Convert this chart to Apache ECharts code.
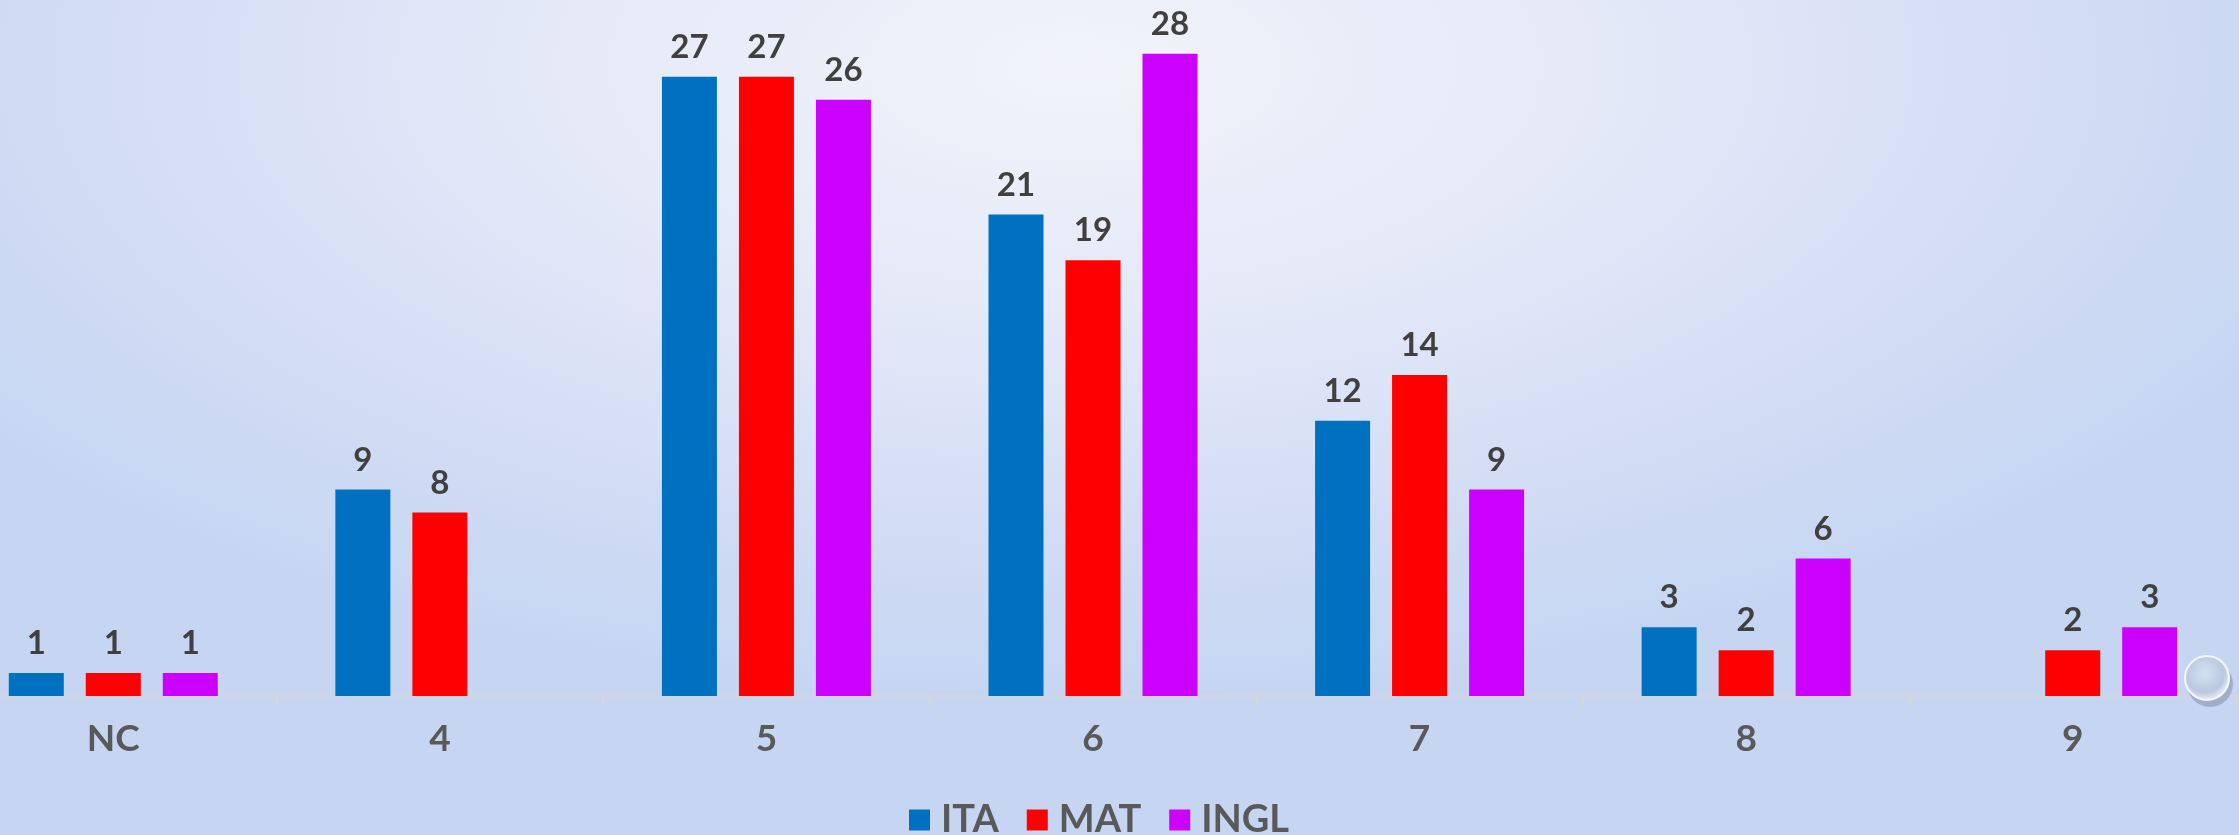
<!DOCTYPE html>
<html>
<head>
<meta charset="utf-8">
<style>
  html, body { margin: 0; padding: 0; }
  body {
    width: 2239px; height: 835px; overflow: hidden; position: relative;
    background: radial-gradient(ellipse 60% 75% at 48% 8%, #f2f3fa 0%, #e4e9f8 40%, #d2dcf4 75%, #c6d6f2 100%);
  }
  #chart { position: absolute; left: -50px; top: 0; width: 2289px; height: 835px; }
</style>
<script src="https://cdn.jsdelivr.net/npm/echarts@6/dist/echarts.min.js"></script>
</head>
<body>
<div id="chart"></div>
<script>
const categories = ['NC', '4', '5', '6', '7', '8', '9'];
const ita  = [1, 9, 27, 21, 12, 3, null];
const mat  = [1, 8, 27, 19, 14, 2, 2];
const ingl = [1, null, 26, 28, 9, 6, 3];
const seriesNames = ['ITA', 'MAT', 'INGL'];
const seriesColors = ['#0070c0', '#ff0000', '#cc00ff'];

const chart = echarts.init(document.getElementById('chart'), null, { renderer: 'canvas' });
const font = 'Lato, "Open Sans", sans-serif';

function mk(name, data, color) {
  return {
    name: name,
    type: 'bar',
    data: data,
    barWidth: 55,
    barGap: '40%',
    itemStyle: { color: color },
    label: {
      show: true,
      position: 'top',
      distance: 13,
      fontFamily: font,
      fontWeight: 'bold',
      fontSize: 33,
      color: '#404040'
    }
  };
}

chart.setOption({
  backgroundColor: 'transparent',
  animation: false,
  grid: { left: 0, right: 3, top: 8, bottom: 139, containLabel: false },
  legend: {
    left: 954,
    top: 796,
    itemWidth: 21,
    itemHeight: 21,
    itemGap: 28,
    icon: 'rect',
    textStyle: {
      fontFamily: font, fontWeight: 'bold', fontSize: 38, color: '#595959',
      padding: [0, 0, 0, 6]
    },
    data: seriesNames
  },
  xAxis: {
    type: 'category',
    data: categories,
    axisLine: { show: true, lineStyle: { color: '#d6d6d6', width: 2 } },
    axisTick: { show: true, length: 10, lineStyle: { color: '#d6d6d6', width: 2 } },
    axisLabel: {
      margin: 25,
      fontFamily: font, fontWeight: 'bold', fontSize: 37, color: '#595959'
    }
  },
  yAxis: {
    type: 'value',
    min: 0, max: 30, interval: 5,
    show: false,
    splitLine: { show: false }
  },
  graphic: [
    {
      type: 'circle',
      shape: { cx: 2260, cy: 684, r: 23 },
      style: { fill: 'rgba(90,100,120,0.35)' },
      z: 1
    },
    {
      type: 'circle',
      shape: { cx: 2257, cy: 678, r: 22 },
      style: {
        fill: new echarts.graphic.RadialGradient(0.45, 0.4, 0.6, [
          { offset: 0, color: '#d5e0f2' },
          { offset: 0.7, color: '#b9c8e0' },
          { offset: 1, color: '#eef2f8' }
        ]),
        stroke: '#f4f6fa',
        lineWidth: 2
      },
      z: 2
    }
  ],
  series: [
    mk(seriesNames[0], ita, seriesColors[0]),
    mk(seriesNames[1], mat, seriesColors[1]),
    mk(seriesNames[2], ingl, seriesColors[2])
  ]
});
</script>
</body>
</html>
